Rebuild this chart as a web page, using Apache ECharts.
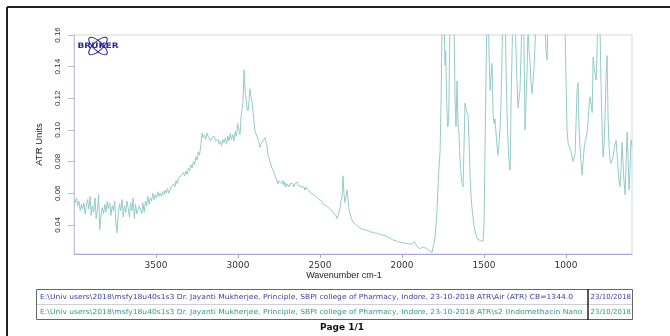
<!DOCTYPE html>
<html><head><meta charset="utf-8">
<script src="https://cdn.jsdelivr.net/npm/echarts@6/dist/echarts.min.js"></script>
<style>html,body{margin:0;padding:0;background:#fff}#c{width:670px;height:336px}</style>
</head><body><div id="c"></div>
<script>
const wavenumber = [
4000,3992,3985,3978,3970,3962,3955,3947,3940,3932,
3925,3917,3910,3902,3895,3888,3880,3872,3865,3857,
3850,3843,3836,3828,3820,3812,3805,3797,3790,3782,
3775,3767,3760,3752,3745,3738,3730,3722,3715,3707,
3700,3692,3685,3677,3670,3662,3655,3647,3640,3632,
3625,3617,3610,3602,3595,3587,3580,3572,3565,3557,
3550,3542,3535,3527,3520,3512,3505,3497,3490,3482,
3475,3467,3460,3452,3445,3437,3430,3422,3415,3407,
3400,3392,3385,3377,3370,3362,3355,3347,3340,3332,
3325,3317,3310,3302,3295,3287,3280,3272,3265,3257,
3250,3242,3235,3227,3220,3212,3205,3197,3189,3182,
3175,3167,3160,3152,3145,3137,3130,3122,3115,3107,
3100,3092,3085,3077,3070,3062,3055,3047,3040,3032,
3025,3017,3010,3002,2995,2988,2980,2970,2963,2957,
2951,2945,2939,2933,2927,2921,2915,2908,2902,2896,
2890,2884,2878,2872,2866,2860,2854,2848,2841,2835,
2829,2823,2817,2811,2805,2799,2793,2787,2780,2774,
2768,2762,2756,2750,2744,2738,2732,2726,2720,2714,
2707,2701,2695,2689,2683,2677,2671,2665,2659,2653,
2646,2640,2634,2628,2622,2616,2610,2604,2598,2592,
2585,2579,2573,2567,2561,2555,2549,2543,2537,2531,
2524,2518,2512,2506,2500,2490,2480,2470,2460,2450,
2440,2430,2421,2412,2404,2396,2390,2384,2378,2372,
2366,2360,2354,2348,2341,2335,2329,2323,2317,2309,
2299,2290,2280,2270,2256,2245,2235,2224,2213,2200,
2190,2175,2163,2152,2140,2128,2116,2104,2092,2080,
2068,2056,2044,2032,2024,2012,2000,1990,1978,1966,
1954,1942,1932,1925,1921,1915,1905,1895,1890,1880,
1870,1860,1850,1841,1830,1822,1817,1811,1805,1799,
1793,1787,1780,1774,1768,1762,1756,1750,1744,1738,
1734,1728,1722,1716,1710,1704,1698,1690,1683,1677,
1671,1665,1659,1653,1647,1641,1634,1628,1622,1616,
1610,1604,1598,1592,1585,1578,1570,1562,1555,1547,
1540,1530,1520,1512,1506,1500,1494,1488,1482,1476,
1470,1463,1457,1451,1445,1439,1433,1427,1421,1415,
1409,1403,1396,1390,1384,1378,1372,1366,1360,1353,
1347,1341,1335,1329,1323,1317,1311,1305,1299,1293,
1287,1281,1274,1268,1262,1256,1250,1244,1238,1232,
1226,1220,1214,1207,1201,1195,1189,1183,1177,1165,
1152,1140,1128,1122,1116,1110,1100,1080,1060,1040,
1020,1006,1000,994,988,982,975,969,963,957,
951,945,939,933,927,921,915,909,902,896,
890,884,878,872,866,860,854,847,841,835,
829,823,817,811,805,799,793,787,780,774,
768,762,756,750,744,738,732,726,720,713,
707,701,695,689,683,677,671,665,659,653,
647,640,634,628,622,616,610,604,598
];
const atrUnits = [
.056,.054,.057,.052,.055,.049,.053,.050,.054,.047,
.052,.056,.050,.058,.046,.052,.048,.057,.044,.050,
.059,.037,.045,.051,.047,.053,.048,.055,.050,.054,
.046,.052,.049,.055,.042,.035,.047,.053,.049,.056,
.045,.052,.048,.055,.051,.045,.054,.049,.057,.044,
.053,.047,.046,.052,.050,.047,.054,.048,.055,.052,
.058,.053,.057,.055,.060,.056,.059,.057,.061,.058,
.060,.058,.061,.059,.062,.060,.063,.060,.062,.064,
.063,.066,.064,.068,.066,.070,.069,.071,.070,.073,
.071,.074,.072,.076,.074,.078,.076,.080,.078,.083,
.081,.086,.084,.090,.098,.095,.097,.094,.098,.096,
.095,.093,.095,.094,.096,.093,.092,.094,.091,.093,
.090,.094,.092,.095,.091,.096,.093,.098,.094,.097,
.093,.099,.096,.104,.100,.097,.110,.117,.138,.125,
.120,.114,.112,.118,.126,.121,.118,.111,.104,.099,
.098,.096,.095,.092,.089,.091,.090,.093,.094,.095,
.092,.090,.084,.083,.080,.078,.076,.075,.073,.072,
.069,.068,.066,.068,.067,.069,.066,.068,.065,.067,
.064,.066,.066,.064,.066,.065,.067,.066,.064,.066,
.065,.067,.065,.064,.066,.064,.065,.063,.064,.062,
.064,.063,.062,.061,.062,.060,.061,.060,.059,.058,
.058,.057,.057,.056,.0556,.055,.053,.052,.052,.051,
.050,.049,.048,.047,.046,.044,.045,.048,.050,.055,
.0575,.071,.060,.054,.055,.062,.0556,.050,.047,.044,
.0417,.041,.040,.039,.038,.0375,.037,.0368,.0366,.036,
.0355,.035,.0348,.0347,.034,.0338,.0335,.0332,.033,.032,
.031,.0305,.030,.0298,.0295,.029,.0288,.0286,.0284,.0282,
.028,.0278,.028,.0292,.0296,.028,.026,.0255,.025,.0255,
.026,.026,.025,.024,.0235,.023,.0227,.026,.028,.032,
.040,.049,.066,.077,.087,.119,.170,.200,.172,.141,
.150,.118,.102,.104,.150,.200,.210,.190,.165,.120,
.102,.131,.105,.098,.082,.072,.066,.064,.090,.117,
.113,.111,.109,.095,.070,.056,.047,.040,.036,.033,
.031,.0305,.030,.029,.0295,.040,.087,.135,.175,.185,
.150,.125,.135,.142,.110,.104,.107,.098,.090,.084,
.083,.100,.119,.150,.175,.190,.180,.140,.110,.090,
.080,.0746,.119,.150,.180,.190,.175,.150,.130,.114,
.114,.125,.150,.180,.185,.150,.100,.100,.136,.165,
.150,.144,.130,.123,.123,.140,.155,.170,.185,.200,
.190,.175,.165,.150,.144,.170,.200,.220,.230,.210,
.190,.165,.130,.100,.092,.090,.088,.086,.085,.080,
.079,.085,.105,.125,.130,.102,.089,.080,.0714,.080,
.088,.092,.092,.098,.105,.115,.121,.116,.111,.146,
.140,.135,.1315,.150,.175,.180,.165,.130,.100,.083,
.092,.110,.135,.147,.108,.090,.081,.079,.078,.083,
.088,.091,.0935,.085,.075,.068,.064,.075,.092,.080,
.068,.059,.080,.0986,.082,.062,.075,.0935,.090
];
const xTicks = [3500, 3000, 2500, 2000, 1500, 1000];
const yTicks = [0.04, 0.06, 0.08, 0.10, 0.12, 0.14, 0.16];
const xTitle = 'Wavenumber cm-1';
const yTitle = 'ATR Units';
const legendRows = [
  'E:\\Univ users\\2018\\msfy18u40s1s3 Dr. Jayanti Mukherjee, Principle, SBPI college of Pharmacy, Indore, 23-10-2018 ATR\\Air (ATR) CB=1344.0',
  'E:\\Univ users\\2018\\msfy18u40s1s3 Dr. Jayanti Mukherjee, Principle, SBPI college of Pharmacy, Indore, 23-10-2018 ATR\\s2 (Indomethacin Nanoparticles)'
];
const legendDates = ['23/10/2018', '23/10/2018'];
const pageLabel = 'Page 1/1';

const chart = echarts.init(document.getElementById('c'), null, {renderer: 'canvas'});
const rowColors = ['#3d3d9e', '#2f9a8c'];
const rowScale = 1.085;
const graphics = [
  {type: 'line', shape: {x1: 7, y1: 7, x2: 670, y2: 7}, style: {stroke: '#222', lineWidth: 2}},
  {type: 'line', shape: {x1: 7, y1: 7, x2: 7, y2: 336}, style: {stroke: '#222', lineWidth: 2}},
  {type: 'text', style: {text: xTitle, x: 344, y: 276, align: 'center', verticalAlign: 'middle', font: '9px "Liberation Sans"', fill: '#222'}},
  {type: 'rect', shape: {x: 36.5, y: 289.5, width: 596, height: 30}, style: {fill: 'none', stroke: '#666', lineWidth: 1}},
  {type: 'line', shape: {x1: 37, y1: 304.5, x2: 632, y2: 304.5}, style: {stroke: '#d0d0d0', lineWidth: 1}},
  {type: 'line', shape: {x1: 588, y1: 289, x2: 588, y2: 320}, style: {stroke: '#222', lineWidth: 1.5}},
  {type: 'text', style: {text: pageLabel, x: 342, y: 328, align: 'center', verticalAlign: 'middle', font: 'bold 9px "DejaVu Sans"', fill: '#111'}},
  {type: 'group', x: 98, y: 46, children: [
    {type: 'ellipse', rotation: 0.75, shape: {cx: 0, cy: 0, rx: 12, ry: 4.5}, style: {fill: 'none', stroke: '#2b2b9c', lineWidth: 1}},
    {type: 'ellipse', rotation: -0.75, shape: {cx: 0, cy: 0, rx: 12, ry: 4.5}, style: {fill: 'none', stroke: '#2b2b9c', lineWidth: 1}},
    {type: 'text', scaleX: 1.2, style: {text: 'BRUKER', x: 0, y: 0, align: 'center', verticalAlign: 'middle', font: 'bold 7.5px "DejaVu Sans"', fill: '#2b2b9c'}}
  ]}
];
legendRows.forEach((t, i) => {
  graphics.push({type: 'text', x: 40, y: 297 + i * 15, scaleX: rowScale,
    style: {text: t, x: 0, y: 0, verticalAlign: 'middle', font: '7px "DejaVu Sans"', fill: rowColors[i], width: (587 - 40) / rowScale, overflow: 'truncate', ellipsis: ''}});
  graphics.push({type: 'text', x: 590.5, y: 297 + i * 15,
    style: {text: legendDates[i], x: 0, y: 0, verticalAlign: 'middle', font: '7px "DejaVu Sans"', fill: rowColors[i]}});
});

chart.setOption({
  animation: false,
  grid: {left: 74, right: 38, top: 35, bottom: 82, show: true, borderColor: '#d6d6d6', borderWidth: 1},
  xAxis: {
    type: 'value', inverse: true, min: 598, max: 4000,
    axisLine: {show: true, onZero: false, lineStyle: {color: '#aca8dc', width: 1}},
    axisTick: {show: true, length: 4, customValues: xTicks, lineStyle: {color: '#aca8dc'}},
    axisLabel: {customValues: xTicks, margin: 7, formatter: v => String(v), fontFamily: 'DejaVu Sans', fontSize: 9, color: '#333'},
    splitLine: {show: false}
  },
  yAxis: {
    type: 'value', min: 0.0216, max: 0.16,
    name: yTitle, nameLocation: 'middle', nameGap: 30, nameRotate: 90,
    nameTextStyle: {fontFamily: 'Liberation Sans', fontSize: 9.5, color: '#222'},
    axisLine: {show: true, onZero: false, lineStyle: {color: '#c4c2e0'}},
    axisTick: {show: true, length: 6, customValues: yTicks, lineStyle: {color: '#bbb'}},
    axisLabel: {customValues: yTicks, rotate: 90, margin: 12, formatter: v => v.toFixed(2), fontFamily: 'Liberation Sans', fontSize: 8, color: '#333'},
    splitLine: {show: false}
  },
  series: [{
    type: 'line', data: wavenumber.map((w, i) => [w, atrUnits[i]]),
    symbol: 'none', clip: true,
    lineStyle: {color: '#95cbc9', width: 1}
  }],
  graphic: graphics
});
</script></body></html>
